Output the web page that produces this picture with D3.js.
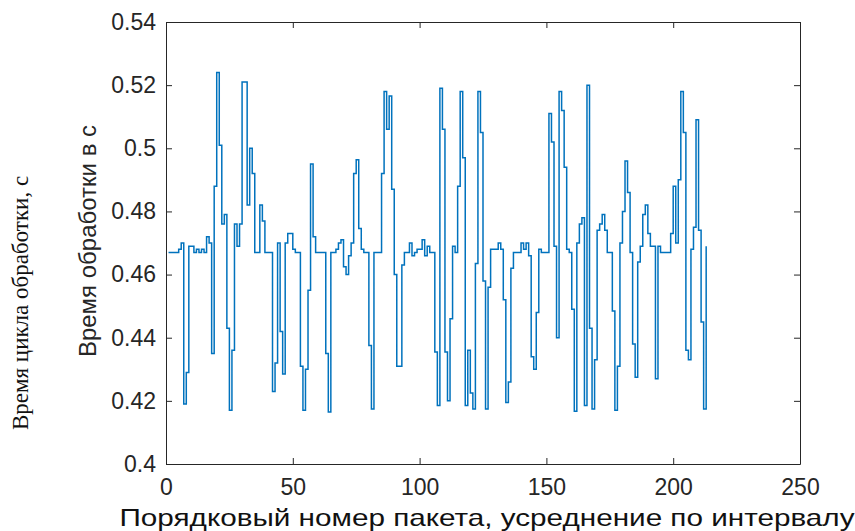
<!DOCTYPE html>
<html>
<head>
<meta charset="utf-8">
<script src="https://cdn.jsdelivr.net/npm/d3@7"></script>
<style>
  body { margin: 0; background: #fff; }
  text { font-family: "Liberation Sans", Arial, sans-serif; }
</style>
</head>
<body>
<div class="chart"></div>
<script>
// processing time per packet (index starts at 1)
const times = [
  0.467, 0.467, 0.467, 0.467, 0.468, 0.470, 0.419, 0.429, 0.469, 0.469,
  0.467, 0.468, 0.467, 0.468, 0.467, 0.472, 0.470, 0.435, 0.488, 0.524,
  0.501, 0.476, 0.479, 0.443, 0.417, 0.436, 0.476, 0.469, 0.476, 0.521,
  0.521, 0.482, 0.500, 0.492, 0.467, 0.467, 0.482, 0.477, 0.467, 0.467,
  0.467, 0.423, 0.432, 0.470, 0.442, 0.4285, 0.470, 0.473, 0.473, 0.468,
  0.467, 0.467, 0.431, 0.417, 0.430, 0.455, 0.495, 0.472, 0.467, 0.467,
  0.467, 0.467, 0.435, 0.4165, 0.467, 0.467, 0.468, 0.470, 0.471, 0.4625,
  0.460, 0.466, 0.470, 0.492, 0.4964, 0.4746, 0.468, 0.467, 0.467, 0.4375,
  0.4174, 0.467, 0.467, 0.467, 0.492, 0.518, 0.506, 0.5166, 0.487, 0.460,
  0.431, 0.431, 0.463, 0.467, 0.467, 0.470, 0.466, 0.467, 0.468, 0.468,
  0.471, 0.466, 0.469, 0.467, 0.467, 0.4355, 0.4185, 0.519, 0.506, 0.4355,
  0.420, 0.446, 0.469, 0.467, 0.488, 0.518, 0.497, 0.4185, 0.436, 0.4225,
  0.4174, 0.4635, 0.518, 0.505, 0.458, 0.4174, 0.456, 0.468, 0.468, 0.468,
  0.470, 0.468, 0.452, 0.4195, 0.426, 0.462, 0.467, 0.467, 0.467, 0.470,
  0.468, 0.470, 0.466, 0.434, 0.430, 0.448, 0.468, 0.467, 0.467, 0.467,
  0.511, 0.502, 0.469, 0.440, 0.518, 0.512, 0.494, 0.468, 0.467, 0.449,
  0.4167, 0.470, 0.476, 0.478, 0.4185, 0.520, 0.443, 0.4174, 0.433, 0.474,
  0.476, 0.479, 0.474, 0.467, 0.467, 0.4485, 0.417, 0.431, 0.470, 0.480,
  0.496, 0.486, 0.467, 0.438, 0.4275, 0.464, 0.469, 0.479, 0.482, 0.473,
  0.469, 0.469, 0.427, 0.469, 0.467, 0.467, 0.467, 0.467, 0.473, 0.488,
  0.470, 0.490, 0.518, 0.505, 0.436, 0.433, 0.468, 0.475, 0.509, 0.474,
  0.445, 0.4174, 0.469
];
const xTicks = [0, 50, 100, 150, 200, 250];
const yTicks = [0.4, 0.42, 0.44, 0.46, 0.48, 0.5, 0.52, 0.54];

const width = 855, height = 531;
const margin = {top: 22, right: 55, bottom: 67, left: 166};
const plotW = width - margin.left - margin.right;
const plotH = height - margin.top - margin.bottom;

let svg = d3.select(".chart")
  .append("svg")
    .attr("width", width)
    .attr("height", height);

let chart = svg.append("g")
  .attr("transform", "translate(" + margin.left + "," + margin.top + ")");

let x = d3.scaleLinear().domain([0, 250]).range([0, plotW]);
let y = d3.scaleLinear().domain([0.4, 0.54]).range([plotH, 0]);

// axes, ticks pointing inward like matlab
let xAxis = chart.append("g")
  .attr("transform", "translate(0," + plotH + ")")
  .call(d3.axisBottom(x).tickValues(xTicks).tickSizeInner(-6).tickSizeOuter(0).tickPadding(10));
let xTop = chart.append("g")
  .call(d3.axisTop(x).tickValues(xTicks).tickSizeInner(-6).tickSizeOuter(0).tickFormat(""));
let yAxis = chart.append("g")
  .call(d3.axisLeft(y).tickValues(yTicks).tickSizeInner(-6).tickSizeOuter(0).tickPadding(10)
    .tickFormat(d => String(+d.toFixed(2))));
let yRight = chart.append("g")
  .attr("transform", "translate(" + plotW + ",0)")
  .call(d3.axisRight(y).tickValues(yTicks).tickSizeInner(-6).tickSizeOuter(0).tickFormat(""));

chart.selectAll(".domain, .tick line").attr("stroke", "#262626").attr("stroke-width", 1);
chart.selectAll(".tick text")
  .attr("fill", "#262626")
  .style("font-size", "23px")
  .style("font-family", "'Liberation Sans', Arial, sans-serif");
xAxis.selectAll(".tick text").attr("dy", "0.9em");

// stairs-like trace
let line = d3.line()
  .x((d, i) => x(i + 1))
  .y(d => y(d))
  .curve(d3.curveStepAfter);

chart.append("path")
  .datum(times)
  .attr("fill", "none")
  .attr("stroke", "#0072BD")
  .attr("stroke-width", 1.5)
  .attr("d", line);

// labels
svg.append("text")
  .attr("transform", "translate(87,241) rotate(-90)")
  .attr("text-anchor", "middle")
  .attr("dominant-baseline", "central")
  .attr("fill", "#262626")
  .style("font-size", "24px")
  .text("Время обработки в с");

svg.append("text")
  .attr("transform", "translate(20,303) rotate(-90)")
  .attr("text-anchor", "middle")
  .attr("dominant-baseline", "central")
  .attr("fill", "#111")
  .style("font-family", "'Liberation Serif', 'DejaVu Serif', serif")
  .style("font-size", "23px")
  .text("Время цикла обработки, с");

svg.append("text")
  .attr("x", 487)
  .attr("y", 526)
  .attr("text-anchor", "middle")
  .attr("fill", "#111")
  .style("font-size", "24px")
  .attr("textLength", 735)
  .attr("lengthAdjust", "spacingAndGlyphs")
  .text("Порядковый номер пакета, усреднение по интервалу");
</script>
</body>
</html>
